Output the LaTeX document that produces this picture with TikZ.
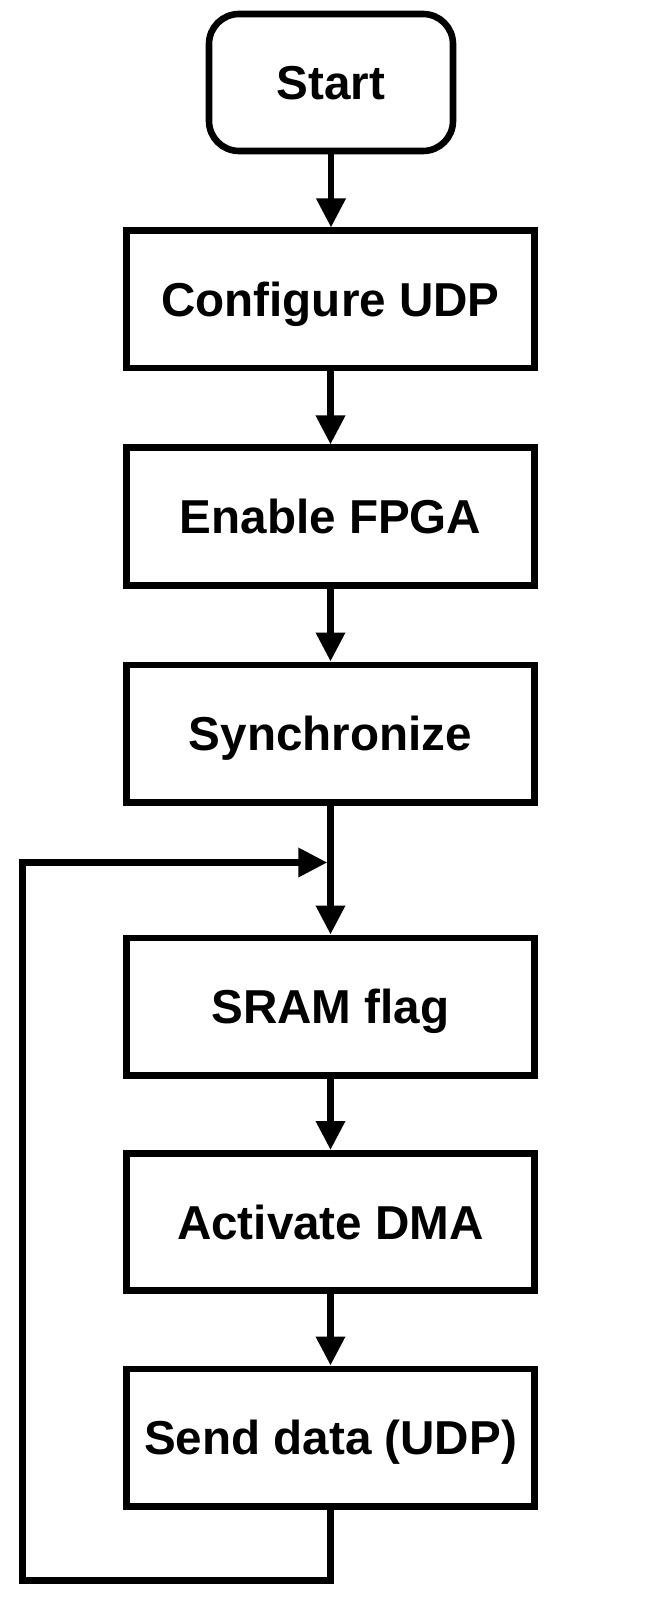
\documentclass[tikz,border=0pt]{standalone}
\usepackage{fontspec}
\setmainfont{Liberation Sans}
\usepackage{tikz}
\usetikzlibrary{arrows.meta,positioning}
\tikzset{
  label/.style={font=\fontsize{23.8}{28}\selectfont\bfseries,text height=17pt,text depth=0pt,inner sep=0pt},
  term/.style ={draw,line width=3.3pt,rounded corners=15pt,minimum width=122pt,minimum height=68.5pt,label},
  stage/.style={draw,line width=3.3pt,minimum width=204.2pt,minimum height=68.7pt,label},
  flow/.style ={line width=3.3pt,-{Triangle[length=14.5pt,width=14pt]}},
  plain/.style={line width=3.3pt},
}

\begin{document}
\begin{tikzpicture}[x=0.5pt,y=-0.5pt]
  \useasboundingbox (0,0) rectangle (660,1604);
  \node[term] (start) at (331,82.5){Start};
  \foreach \y/\name/\txt in {299.5/udp/Configure UDP,516.5/fpga/Enable FPGA,733.5/sync/Synchronize,
                             1006.5/sram/SRAM flag,1222/dma/Activate DMA,1437.5/send/Send data (UDP)}{
     \node[stage] (\name) at (330.5,\y){\txt};
  }
  \coordinate (join) at (330.5,862.5);
  \coordinate (low) at (22.5,1580.5);
  \draw[flow] (start) -- (start|-udp.north);
  \draw[flow] (udp) -- (fpga);
  \draw[flow] (fpga) -- (sync);
  \draw[plain] (sync) -- (join);
  \draw[flow] (join) -- (sram);
  \draw[flow] (sram) -- (dma);
  \draw[flow] (dma) -- (send);
  % loop back
  \draw[flow,shorten >=1.6pt] (send.south) |- (low) |- (join);
\end{tikzpicture}
\end{document}
